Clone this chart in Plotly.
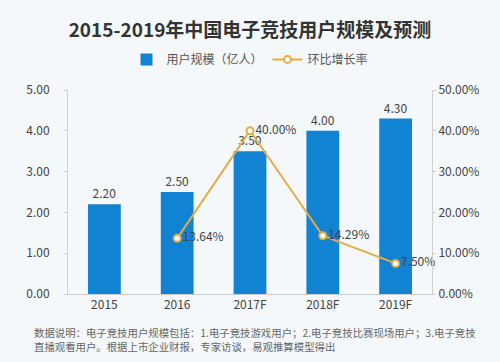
import plotly.graph_objects as go

categories = ["2015", "2016", "2017F", "2018F", "2019F"]
users = [2.20, 2.50, 3.50, 4.00, 4.30]
growth_x = ["2016", "2017F", "2018F", "2019F"]
growth = [13.64, 40.00, 14.29, 7.50]
left_ticks = [0, 1, 2, 3, 4, 5]
right_ticks = [0, 10, 20, 30, 40, 50]
note_lines = [
    "数据说明：电子竞技用户规模包括：1.电子竞技游戏用户；2.电子竞技比赛现场用户；3.电子竞技",
    "直播观看用户。根据上市企业财报，专家访谈，易观推算模型得出",
]

FONT = "Noto Sans CJK SC"
BG = "#f4f8fa"

fig = go.Figure()
fig.add_trace(go.Bar(
    x=categories, y=users, name="用户规模（亿人）",
    marker=dict(color="#1282d2", line=dict(width=0)),
    width=0.45,
    text=[f"{v:.2f}" for v in users], textposition="outside",
    textfont=dict(size=12, color="#444", family=FONT),
    cliponaxis=False,
))
fig.add_trace(go.Scatter(
    x=growth_x, y=growth, name="环比增长率", yaxis="y2",
    mode="lines+markers+text",
    line=dict(color="#e3ac45", width=2),
    marker=dict(size=7, color="white", line=dict(color="#e3ac45", width=2)),
    text=[f"{v:.2f}%" for v in growth], textposition="middle right",
    textfont=dict(size=12, color="#444", family=FONT),
    cliponaxis=False,
))

annotations = []
for i, line in enumerate(note_lines):
    annotations.append(dict(
        text=line, xref="paper", yref="paper", x=-0.1, y=-0.19 - i * 0.068,
        xanchor="left", yanchor="middle", showarrow=False, align="left",
        font=dict(size=10.4, color="#666", family=FONT)))

fig.update_layout(
    width=500, height=362,
    paper_bgcolor=BG, plot_bgcolor=BG,
    margin=dict(l=68, r=68, t=90, b=68, autoexpand=False),
    font=dict(family=FONT, color="#444"),
    title=dict(text="<b>2015-2019年中国电子竞技用户规模及预测</b>",
               x=0.5, xanchor="center", xref="paper", y=0.917, yref="container", yanchor="middle",
               font=dict(size=19, color="#333", family=FONT)),
    legend=dict(orientation="h", x=0.5, xanchor="center", y=1.15, yanchor="middle",
                font=dict(size=12, color="#555", family=FONT), bgcolor="rgba(0,0,0,0)",
                itemwidth=30, tracegroupgap=0),
    bargap=0.55,
    xaxis=dict(showgrid=False, showline=True, linecolor="#cccccc", linewidth=1,
               ticks="", tickfont=dict(size=12, color="#444"), fixedrange=True, automargin=False),
    yaxis=dict(range=[0, 5], tickvals=left_ticks,
               ticktext=[f"{v:.2f}" for v in left_ticks],
               showgrid=False, showline=True, linecolor="#d0d0d0", linewidth=1,
               ticks="outside", ticklen=3, tickcolor="#d0d0d0", automargin=False,
               tickfont=dict(size=12, color="#444"), ticklabelstandoff=12, zeroline=False),
    yaxis2=dict(range=[0, 50], tickvals=right_ticks,
                ticktext=[f"{v:.2f}%" for v in right_ticks],
                overlaying="y", side="right", automargin=False,
                showgrid=False, showline=True, linecolor="#d0d0d0", linewidth=1,
                ticks="outside", ticklen=3, tickcolor="#d0d0d0",
                tickfont=dict(size=12, color="#444"), zeroline=False),
    annotations=annotations,
)

fig.write_html("out.html", config={"displayModeBar": False},
               post_script="document.body.style.margin='0';document.body.style.background='#f4f8fa';")
